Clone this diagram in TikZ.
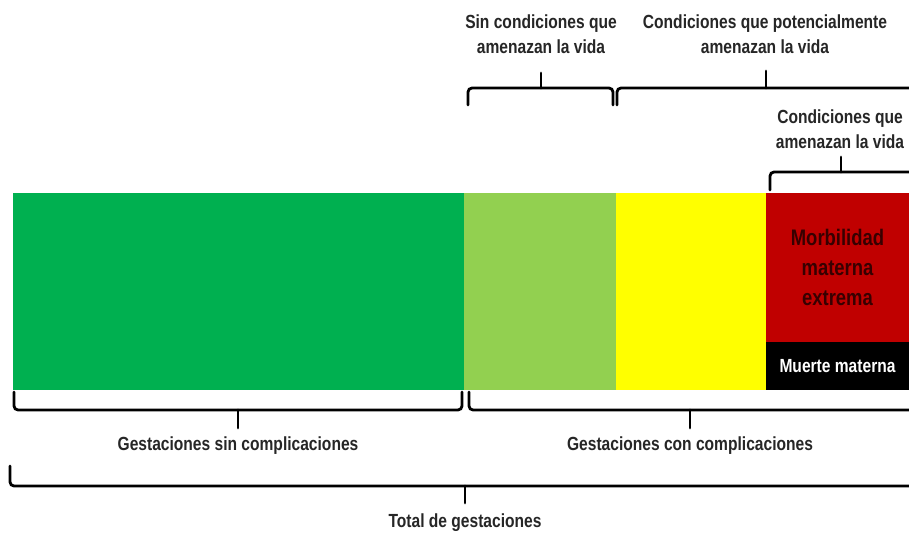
\documentclass[tikz,border=0pt]{standalone}
\usepackage{fontspec}
\setmainfont{Liberation Sans}
\usetikzlibrary{positioning}
\definecolor{verde}{RGB}{0,176,80}
\definecolor{verdeclaro}{RGB}{146,208,80}
\definecolor{amarillo}{RGB}{255,255,0}
\definecolor{rojo}{RGB}{192,0,0}
\definecolor{rojotexto}{RGB}{55,0,0}
\tikzstyle{seg}=[draw=none, inner sep=0, outer sep=0, minimum height=197]
\tikzstyle{etq}=[font=\fontsize{19}{25}\selectfont\bfseries, align=center,
		xscale=0.82, text=black!85, inner sep=0]
\tikzstyle{llave}=[line width=2.8, rounded corners=4, line cap=round]
% llave: x1, x2, y barra, y extremos, x punta, y punta
\newcommand{\llave}[6]{
	\draw[llave] (#1,#4) -- (#1,#3) -- (#2,#3) -- (#2,#4);
	\draw[llave] (#5,#3) -- (#5,#6);
}

\begin{document}
\begin{tikzpicture}[x=1pt, y=-1pt]
	\useasboundingbox[fill=white] (0,0) rectangle (909,534);
	% barra
	\node[seg, fill=verde, minimum width=451, anchor=north west] (gsin) at (13,193) {};
	\node[seg, fill=verdeclaro, minimum width=152, right=0pt of gsin] (gleve) {};
	\node[seg, fill=amarillo, minimum width=150, right=0pt of gleve] (gpot) {};
	\node[seg, fill=rojo, minimum width=143, minimum height=149, anchor=north west] (gext) at (gpot.north east) {};
	\node[seg, fill=black, minimum width=143, minimum height=48, below=0pt of gext] (gmuerte) {};
	\node[etq, font=\fontsize{22.5}{30}\selectfont\bfseries, text=rojotexto] (tmorb) at (gext) {Morbilidad\\materna\\extrema};
	\node[etq, text=white] (tmuerte) at (gmuerte) {Muerte materna};
	% llaves de arriba
	\llave{468}{613}{88}{105}{541}{73}
	\llave{617}{915}{88}{105}{766}{71}
	\llave{770}{915}{172}{190}{841}{157}
	\node[etq] (tsin) at (541,34) {Sin condiciones que\\amenazan la vida};
	\node[etq] (tpot) at (765,34) {Condiciones que potencialmente\\amenazan la vida};
	\node[etq] (tame) at (840,129) {Condiciones que\\amenazan la vida};
	% llaves de abajo
	\llave{14}{462}{410}{392}{238}{428}
	\llave{469}{915}{410}{392}{690}{428}
	\llave{10}{915}{486}{466}{465}{503}
	\node[etq] (tgsin) at (238,446) {Gestaciones sin complicaciones};
	\node[etq] (tgcon) at (690,446) {Gestaciones con complicaciones};
	\node[etq] (ttotal) at (465,523) {Total de gestaciones};
\end{tikzpicture}
\end{document}
